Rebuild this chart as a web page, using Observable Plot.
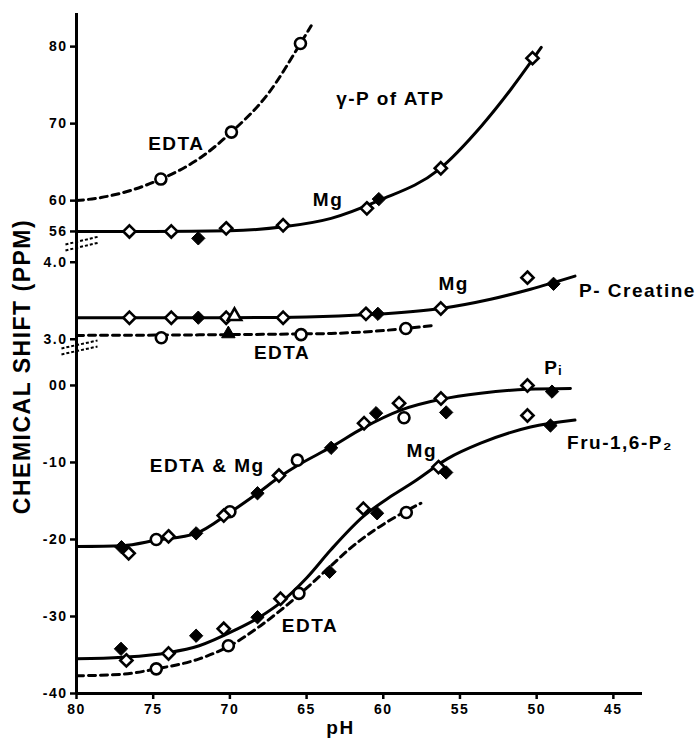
<!DOCTYPE html>
<html><head><meta charset="utf-8">
<script src="https://cdn.jsdelivr.net/npm/d3@7"></script>
<script src="https://cdn.jsdelivr.net/npm/@observablehq/plot@0.6"></script>
<style>
body{margin:0;background:#fff}
svg text{letter-spacing:1.5px}
</style>
</head><body><div id="chart"></div>
<script>
// ---------- axis ticks ----------
const pHTicks = [8.0, 7.5, 7.0, 6.5, 6.0, 5.5, 5.0, 4.5];
const pHTickLabels = ["80", "75", "70", "65", "60", "55", "50", "45"];
const atpTicks = [8.0, 7.0, 6.0, 5.6];
const atpTickLabels = ["80", "70", "60", "56"];
const pcrTicks = [4.0, 3.0];
const pcrTickLabels = ["4.0", "3.0"];
const lowTicks = [0, -1, -2, -3, -4];
const lowTickLabels = ["00", "-10", "-20", "-30", "-40"];

// ---------- γ-P of ATP ----------
const atpEdtaCirclePH = [7.45, 6.99, 6.54];
const atpEdtaCircleShift = [6.28, 6.89, 8.04];
const atpEdtaCurvePH = [8.0, 7.84, 7.45, 7.19, 6.99, 6.75, 6.54, 6.47];
const atpEdtaCurveShift = [6.0, 6.04, 6.28, 6.56, 6.89, 7.39, 8.04, 8.27];
const atpMgOpenPH = [7.655, 7.382, 7.024, 6.653, 6.107, 5.625, 5.027];
const atpMgOpenShift = [5.6, 5.6, 5.64, 5.68, 5.9, 6.42, 7.85];
const atpMgFilledPH = [7.206, 6.029];
const atpMgFilledShift = [5.51, 6.02];
const atpMgCurvePH = [8.0, 7.5, 7.0, 6.65, 6.34, 6.03, 5.64, 5.36, 5.17, 5.027, 4.97];
const atpMgCurveShift = [5.6, 5.6, 5.61, 5.66, 5.77, 6.0, 6.4, 6.97, 7.44, 7.83, 7.99];

// ---------- P-Creatine ----------
const pcrMgOpenPH = [7.655, 7.382, 7.024, 6.653, 6.113, 5.625, 5.06];
const pcrMgOpenShift = [3.28, 3.28, 3.28, 3.28, 3.33, 3.40, 3.80];
const pcrMgFilledPH = [7.206, 6.035, 4.89];
const pcrMgFilledShift = [3.28, 3.33, 3.72];
const pcrMgTrianglePH = [6.97];
const pcrMgTriangleShift = [3.30];
const pcrMgCurvePH = [8.0, 7.0, 6.5, 6.1, 5.625, 5.3, 5.04, 4.75];
const pcrMgCurveShift = [3.28, 3.28, 3.29, 3.32, 3.40, 3.52, 3.65, 3.82];
const pcrEdtaCirclePH = [7.447, 6.536, 5.853];
const pcrEdtaCircleShift = [3.02, 3.06, 3.14];
const pcrEdtaTrianglePH = [7.01];
const pcrEdtaTriangleShift = [3.07];
const pcrEdtaCurvePH = [8.0, 7.0, 6.5, 6.34, 5.85, 5.67];
const pcrEdtaCurveShift = [3.05, 3.06, 3.07, 3.075, 3.14, 3.18];

// ---------- Pi (EDTA & Mg) ----------
const piOpenPH = [7.66, 7.40, 7.04, 6.68, 6.125, 5.897, 5.624, 5.06];
const piOpenShift = [-2.18, -1.96, -1.69, -1.17, -0.49, -0.23, -0.17, 0.0];
const piCirclePH = [7.48, 7.0, 6.56, 5.865];
const piCircleShift = [-2.0, -1.64, -0.97, -0.42];
const piFilledPH = [7.707, 7.22, 6.82, 6.34, 6.047, 5.59, 4.90];
const piFilledShift = [-2.10, -1.92, -1.40, -0.81, -0.36, -0.35, -0.08];
const piCurvePH = [8.0, 7.7, 7.48, 7.22, 7.0, 6.82, 6.67, 6.56, 6.34, 6.13, 5.885, 5.625, 5.365, 5.06, 4.78];
const piCurveShift = [-2.09, -2.08, -2.01, -1.92, -1.65, -1.40, -1.18, -1.04, -0.80, -0.55, -0.32, -0.18, -0.10, -0.05, -0.04];

// ---------- Fru-1,6-P2 ----------
const fruMgOpenPH = [7.675, 7.40, 7.04, 6.67, 6.13, 5.64, 5.06];
const fruMgOpenShift = [-3.57, -3.48, -3.16, -2.77, -1.60, -1.06, -0.39];
const fruMgFilledPH = [7.71, 7.22, 6.82, 6.35, 6.04, 5.59, 4.91];
const fruMgFilledShift = [-3.42, -3.25, -3.01, -2.42, -1.66, -1.13, -0.52];
const fruMgCurvePH = [8.0, 7.7, 7.4, 7.2, 6.97, 6.8, 6.67, 6.5, 6.34, 6.13, 5.95, 5.8, 5.58, 5.365, 5.04, 4.75];
const fruMgCurveShift = [-3.55, -3.53, -3.47, -3.38, -3.18, -3.0, -2.82, -2.5, -2.13, -1.70, -1.44, -1.25, -0.95, -0.75, -0.54, -0.45];
const fruEdtaCirclePH = [7.48, 7.01, 6.55, 5.85];
const fruEdtaCircleShift = [-3.68, -3.38, -2.70, -1.65];
const fruEdtaCurvePH = [8.0, 7.7, 7.48, 7.2, 7.0, 6.8, 6.67, 6.55, 6.34, 6.23, 5.87, 5.755];
const fruEdtaCurveShift = [-3.77, -3.75, -3.68, -3.55, -3.38, -3.12, -2.92, -2.72, -2.34, -2.14, -1.65, -1.53];

// ---------- annotations (centre positions) ----------
const labelText = ["EDTA", "γ-P of ATP", "Mg", "Mg", "P- Creatine", "EDTA", "Pᵢ", "EDTA & Mg", "Mg", "Fru-1,6-P₂", "EDTA"];
const labelPH = [7.349, 5.953, 6.36, 5.541, 4.343, 6.66, 4.89, 7.148, 5.749, 4.457, 6.478];
const labelShift = [6.743, 7.327, 6.003, 3.725, 3.634, 2.829, 0.234, -1.039, -0.844, -0.740, -3.117];
const labelSegment = ["atp", "atp", "atp", "pcr", "pcr", "pcr", "low", "low", "low", "low", "low"];

// axis-break marks (pH, shift on the low segment scale)
const breakX1 = [8.072, 8.072, 8.098, 8.098];
const breakY1 = [1.831, 1.753, 0.481, 0.403];
const breakX2 = [7.850, 7.850, 7.863, 7.863];
const breakY2 = [1.935, 1.857, 0.584, 0.506];

// ---------- build ----------
const segmentOffset = {atp: 3.6, pcr: 2.4, low: 0};
const toV = (shift, seg) => shift - segmentOffset[seg];
const rows = (pHs, shifts, seg) => pHs.map((p, i) => ({x: p, y: toV(shifts[i], seg)}));

const yTicks = [...atpTicks.map(t => toV(t, "atp")), ...pcrTicks.map(t => toV(t, "pcr")), ...lowTicks];
const yLabels = [...atpTickLabels, ...pcrTickLabels, ...lowTickLabels];
const yLabelMap = new Map(yTicks.map((t, i) => [t, yLabels[i]]));
const xLabelMap = new Map(pHTicks.map((t, i) => [t, pHTickLabels[i]]));

const labels = labelText.map((t, i) => ({text: t, x: labelPH[i], y: toV(labelShift[i], labelSegment[i])}));
const breaks = breakX1.map((x, i) => ({x1: x, y1: breakY1[i], x2: breakX2[i], y2: breakY2[i]}));

const solid = {x: "x", y: "y", curve: "monotone-x", stroke: "black", strokeWidth: 3};
const dashed = {...solid, strokeDasharray: "7,5", strokeWidth: 3};
const openDot = (symbol) => ({x: "x", y: "y", symbol, r: 5.5, fill: "white", stroke: "black", strokeWidth: 2.6});
const fillDot = (symbol) => ({x: "x", y: "y", symbol, r: 6, fill: "black", stroke: "black", strokeWidth: 1});

const X0 = 8.0, X1 = 4.31, Y0 = -4, Y1 = 4.83;

const chart = Plot.plot({
  width: 695, height: 743,
  marginLeft: 76, marginRight: 53, marginTop: 13, marginBottom: 50,
  style: {fontFamily: "'Liberation Sans', Arial, sans-serif", background: "white", color: "black"},
  x: {domain: [X0, X1]},
  y: {domain: [Y0, Y1]},
  marks: [
    // curves
    Plot.line(rows(atpEdtaCurvePH, atpEdtaCurveShift, "atp"), dashed),
    Plot.line(rows(atpMgCurvePH, atpMgCurveShift, "atp"), solid),
    Plot.line(rows(pcrMgCurvePH, pcrMgCurveShift, "pcr"), solid),
    Plot.line(rows(pcrEdtaCurvePH, pcrEdtaCurveShift, "pcr"), dashed),
    Plot.line(rows(piCurvePH, piCurveShift, "low"), solid),
    Plot.line(rows(fruMgCurvePH, fruMgCurveShift, "low"), solid),
    Plot.line(rows(fruEdtaCurvePH, fruEdtaCurveShift, "low"), dashed),
    // axis lines
    Plot.ruleX([X0], {y1: Y0, y2: Y1, strokeWidth: 3}),
    Plot.ruleY([Y0], {x1: X0, x2: X1, strokeWidth: 3}),
    Plot.link(breaks, {x1: "x1", y1: "y1", x2: "x2", y2: "y2", strokeWidth: 2, strokeDasharray: "3,2"}),
    // points
    Plot.dot(rows(atpEdtaCirclePH, atpEdtaCircleShift, "atp"), openDot("circle")),
    Plot.dot(rows(atpMgOpenPH, atpMgOpenShift, "atp"), openDot("diamond2")),
    Plot.dot(rows(atpMgFilledPH, atpMgFilledShift, "atp"), fillDot("diamond2")),
    Plot.dot(rows(pcrMgOpenPH, pcrMgOpenShift, "pcr"), openDot("diamond2")),
    Plot.dot(rows(pcrMgFilledPH, pcrMgFilledShift, "pcr"), fillDot("diamond2")),
    Plot.dot(rows(pcrMgTrianglePH, pcrMgTriangleShift, "pcr"), {...openDot("triangle"), r: 5}),
    Plot.dot(rows(pcrEdtaCirclePH, pcrEdtaCircleShift, "pcr"), openDot("circle")),
    Plot.dot(rows(pcrEdtaTrianglePH, pcrEdtaTriangleShift, "pcr"), {...fillDot("triangle"), r: 5}),
    Plot.dot(rows(piCirclePH, piCircleShift, "low"), openDot("circle")),
    Plot.dot(rows(piOpenPH, piOpenShift, "low"), openDot("diamond2")),
    Plot.dot(rows(piFilledPH, piFilledShift, "low"), fillDot("diamond2")),
    Plot.dot(rows(fruEdtaCirclePH, fruEdtaCircleShift, "low"), openDot("circle")),
    Plot.dot(rows(fruMgOpenPH, fruMgOpenShift, "low"), openDot("diamond2")),
    Plot.dot(rows(fruMgFilledPH, fruMgFilledShift, "low"), fillDot("diamond2")),
    // axes
    Plot.axisY(yTicks, {tickFormat: d => yLabelMap.get(d), tickSize: 6, tickPadding: 3, strokeWidth: 2.5,
      fontSize: 14, fontWeight: "bold", label: null}),
    Plot.axisX(pHTicks, {tickFormat: d => xLabelMap.get(d), tickSize: 6, tickPadding: 5, strokeWidth: 2.5,
      fontSize: 14, fontWeight: "bold", label: null}),
    // annotations
    Plot.text(labels, {x: "x", y: "y", text: "text", textAnchor: "middle", fontSize: 19, fontWeight: "bold"}),
    Plot.text(["pH"], {frameAnchor: "bottom", textAnchor: "middle", dx: -19, dy: 40, fontSize: 19, fontWeight: "bold"}),
    Plot.text(["CHEMICAL SHIFT (PPM)"], {frameAnchor: "left", textAnchor: "middle", rotate: -90, dx: -54, dy: 13,
      fontSize: 23, fontWeight: "bold"})
  ]
});
document.getElementById("chart").append(chart);
</script></body></html>
